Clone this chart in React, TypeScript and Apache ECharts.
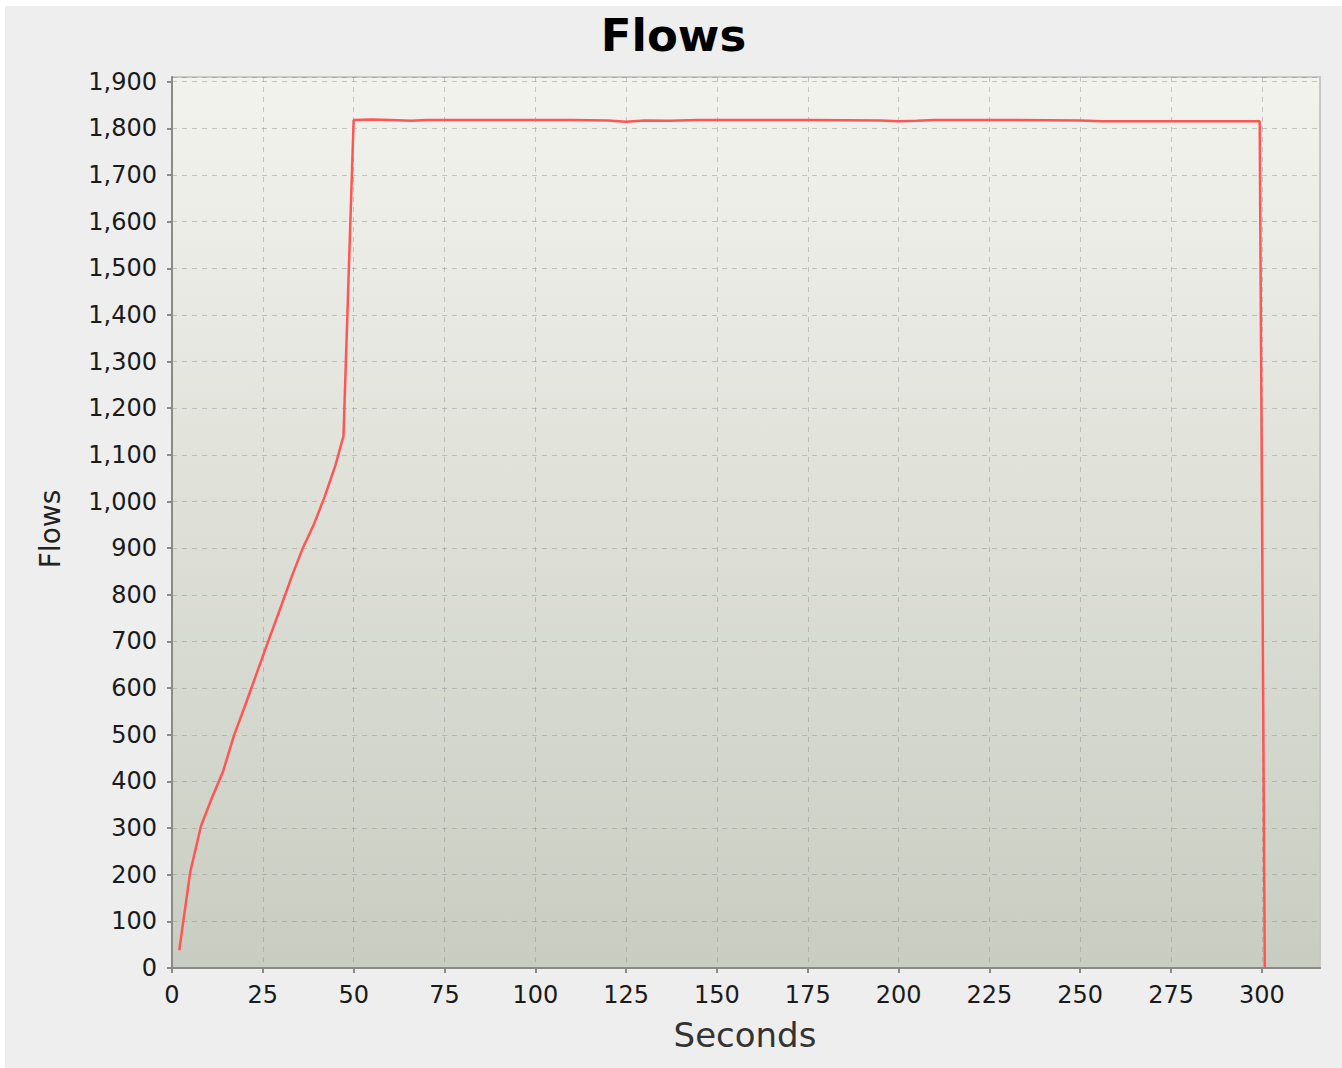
import React, { useEffect, useRef } from "react";
import * as echarts from "echarts";

const chartTitle = "Flows";
const xAxisName = "Seconds";
const yAxisName = "Flows";

// seconds (x) and flows (y)
const seconds = [2, 5, 8, 11, 14, 17, 20, 23, 26, 30, 33, 36, 39, 42, 45, 47.2, 50, 55, 60, 66, 70, 80, 90, 100, 110, 120, 125, 130, 137, 145, 160, 175, 195, 200, 205, 210, 230, 250, 256, 275, 290, 299.4, 300.8];
const flows = [38, 205, 305, 365, 420, 497, 560, 625, 690, 775, 840, 900, 950, 1010, 1078, 1140, 1818, 1819, 1818, 1816, 1818, 1818, 1818, 1818, 1818, 1817, 1814, 1817, 1816, 1818, 1818, 1818, 1817, 1815, 1816, 1818, 1818, 1817, 1815, 1815, 1815, 1815, 0];

const xTicks = [0, 25, 50, 75, 100, 125, 150, 175, 200, 225, 250, 275, 300];

const FONT = "'DejaVu Sans', sans-serif";

export default function App() {
  const ref = useRef<HTMLDivElement>(null);
  useEffect(() => {
    if (!ref.current) return;
    const chart = echarts.init(ref.current, null, { renderer: "svg" });
    const data = seconds.map((s, i) => [s, flows[i]]);
    // chart div is at page (5,6), size 1337x1062
    chart.setOption({
      animation: false,
      backgroundColor: "#eeeeee",
      title: {
        text: chartTitle,
        left: "center",
        top: 2,
        textStyle: { fontFamily: FONT, fontWeight: "bold", fontSize: 45, color: "#000" },
      },
      grid: {
        left: 167,
        top: 71,
        right: 22,
        bottom: 100,
        show: true,
        backgroundColor: new echarts.graphic.LinearGradient(0, 0, 0, 1, [
          { offset: 0, color: "#f3f3ee" },
          { offset: 1, color: "#c9cdc1" },
        ]),
        borderColor: "#c8c8c8",
        borderWidth: 2,
      },
      xAxis: {
        type: "value",
        min: 0,
        max: 316,
        interval: 25,
        axisLine: { show: true, lineStyle: { color: "#8a8a8a", width: 2 } },
        axisTick: { show: true, length: 5, lineStyle: { color: "#8a8a8a", width: 2 }, customValues: xTicks },
        axisLabel: { fontFamily: FONT, fontSize: 24, color: "#1a1a1a", margin: 15, customValues: xTicks },
        splitLine: { show: true, lineStyle: { color: "rgba(140,140,140,0.45)", type: [5, 5], width: 1 } },
      },
      yAxis: {
        type: "value",
        min: 0,
        max: 1910,
        interval: 100,
        axisLine: { show: true, lineStyle: { color: "#8a8a8a", width: 2 } },
        axisTick: { show: true, length: 5, lineStyle: { color: "#8a8a8a", width: 2 } },
        axisLabel: {
          fontFamily: FONT,
          fontSize: 24,
          color: "#1a1a1a",
          margin: 15,
          showMaxLabel: false,
          formatter: (v: number) => (v % 100 === 0 ? v.toLocaleString("en-US") : ""),
        },
        splitLine: { show: true, lineStyle: { color: "rgba(140,140,140,0.45)", type: [5, 5], width: 1 } },
      },
      graphic: [
        {
          type: "text",
          x: 740,
          y: 1029,
          style: { text: xAxisName, fontFamily: FONT, fontSize: 34, fill: "#333", textAlign: "center", textVerticalAlign: "middle" },
        },
        {
          type: "text",
          x: 45.5,
          y: 523,
          rotation: Math.PI / 2,
          style: { text: yAxisName, fontFamily: FONT, fontSize: 28, fill: "#222", textAlign: "center", textVerticalAlign: "middle" },
        },
      ],
      series: [
        {
          type: "line",
          data,
          showSymbol: false,
          lineStyle: { color: "#ff5555", width: 2.5 },
          itemStyle: { color: "#ff5555" },
          z: 3,
        },
      ],
    });
    return () => chart.dispose();
  }, []);
  return (
    <div style={{ position: "fixed", left: 0, top: 0, width: 1342, height: 1068, background: "#fff" }}>
      <div ref={ref} style={{ position: "absolute", left: 5, top: 6, width: 1337, height: 1062 }} />
    </div>
  );
}
